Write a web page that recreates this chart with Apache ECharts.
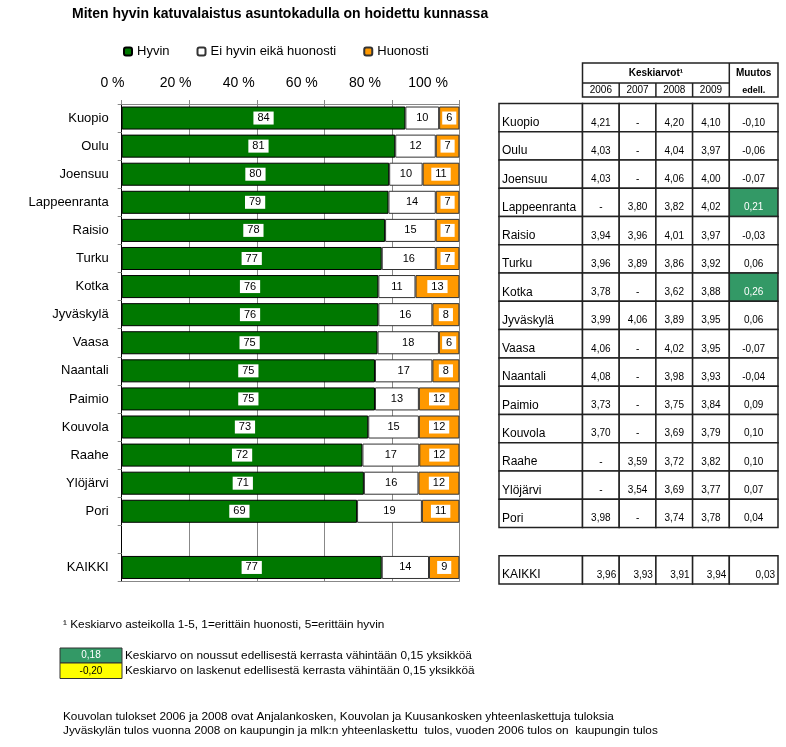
<!DOCTYPE html>
<html><head><meta charset="utf-8">
<script src="https://cdn.jsdelivr.net/npm/echarts@6/dist/echarts.min.js"></script>
<style>html,body{margin:0;padding:0;background:#fff}#c{width:786px;height:747px}</style>
</head><body><div id="c"></div>
<script>
// ---------- DATA ----------
const titleText = 'Miten hyvin katuvalaistus asuntokadulla on hoidettu kunnassa';
const cities = ['Kuopio','Oulu','Joensuu','Lappeenranta','Raisio','Turku','Kotka','Jyväskylä','Vaasa','Naantali','Paimio','Kouvola','Raahe','Ylöjärvi','Pori','','KAIKKI'];
const seriesNames = ['Hyvin','Ei hyvin eikä huonosti','Huonosti'];
const hyvin    = [84,81,80,79,78,77,76,76,75,75,75,73,72,71,69,null,77];
const neutral  = [10,12,10,14,15,16,11,16,18,17,13,15,17,16,19,null,14];
const huonosti = [ 6, 7,11, 7, 7, 7,13, 8, 6, 8,12,12,12,12,11,null, 9];
const tickValues = [0,20,40,60,80,100];

const years = ['2006','2007','2008','2009'];
const avg2006 = [4.21,4.03,4.03,null,3.94,3.96,3.78,3.99,4.06,4.08,3.73,3.70,null,null,3.98,undefined,3.96];
const avg2007 = [null,null,null,3.80,3.96,3.89,null,4.06,null,null,null,null,3.59,3.54,null,undefined,3.93];
const avg2008 = [4.20,4.04,4.06,3.82,4.01,3.86,3.62,3.89,4.02,3.98,3.75,3.69,3.72,3.69,3.74,undefined,3.91];
const avg2009 = [4.10,3.97,4.00,4.02,3.97,3.92,3.88,3.95,3.95,3.93,3.84,3.79,3.82,3.77,3.78,undefined,3.94];
const change  = [-0.10,-0.06,-0.07,0.21,-0.03,0.06,0.26,0.06,-0.07,-0.04,0.09,0.10,0.10,0.07,0.04,undefined,0.03];
const legendSamples = [0.18,-0.20];

const footnote1 = '¹ Keskiarvo asteikolla 1-5, 1=erittäin huonosti, 5=erittäin hyvin';
const sampleTexts = ['Keskiarvo on noussut edellisestä kerrasta vähintään 0,15 yksikköä','Keskiarvo on laskenut edellisestä kerrasta vähintään 0,15 yksikköä'];
const notes = ['Kouvolan tulokset 2006 ja 2008 ovat Anjalankosken, Kouvolan ja Kuusankosken yhteenlaskettuja tuloksia',
               'Jyväskylän tulos vuonna 2008 on kaupungin ja mlk:n yhteenlaskettu  tulos, vuoden 2006 tulos on  kaupungin tulos'];

// ---------- STYLE / LAYOUT ----------
const FONT = '"Liberation Sans", Arial, sans-serif';
const NOTE_FONT = '11.8px ' + FONT;
const GREEN = '#007800', ORANGE = '#FF9900', HI_GREEN = '#339966', HI_YELLOW = '#FFFF00';
const T_TOP = 103.5, T_H = 480.5;
const C_CITY = [499, 83.5], C_YEARS = [582.5, 146.8], C_CHG = [729.3, 48.7];

const fmt = v => (v === null ? '-' : v.toFixed(2).replace('.', ','));
const total = i => (hyvin[i] || 0) + (neutral[i] || 0) + (huonosti[i] || 0);

function barSeries(name, arr, color, border, boxed) {
  return {
    name, type: 'bar', stack: 's', xAxisIndex: 0, yAxisIndex: 0, barCategoryGap: '18%',
    data: arr.map((v, i) => v == null ? null : { value: v / total(i) * 100, raw: v }),
    itemStyle: { color, borderColor: border, borderWidth: 1 },
    label: { show: true, position: 'inside', formatter: p => p.data.raw, color: '#000', fontSize: 11,
      fontFamily: FONT, backgroundColor: boxed ? '#fff' : 'transparent', padding: [1, 4] },
    emphasis: { disabled: true }, animation: false
  };
}

// table cells
const cityCells = [], yearCells = [], chgCells = [];
const yearArrs = [avg2006, avg2007, avg2008, avg2009];
cities.forEach((c, r) => {
  if (c === '') return;
  const last = c === 'KAIKKI';
  cityCells.push({ col: 0, row: r, text: c, fill: '#fff', color: '#000', align: 'left', font: '12px ' + FONT });
  yearArrs.forEach((arr, k) => {
    yearCells.push({ col: k, row: r, text: fmt(arr[r]), fill: '#fff', color: '#000', align: last ? 'right' : 'center', font: '10px ' + FONT });
  });
  const v = change[r];
  const hi = v >= 0.15 ? HI_GREEN : (v <= -0.15 ? HI_YELLOW : '#fff');
  chgCells.push({ col: 0, row: r, text: fmt(v), fill: hi, color: hi === HI_GREEN ? '#fff' : '#000', align: last ? 'right' : 'center', font: '10px ' + FONT });
});

function tableSeries(idx, cells) {
  return {
    type: 'custom', xAxisIndex: idx, yAxisIndex: idx, animation: false, silent: true,
    data: cells.map(c => [c.col, c.row]),
    renderItem: (params, api) => {
      const c = cells[params.dataIndex];
      const p = api.coord([api.value(0), api.value(1)]);
      const s = api.size([1, 1]);
      const x0 = p[0] - s[0] / 2, y0 = p[1] - s[1] / 2;
      const tx = c.align === 'left' ? x0 + 3 : (c.align === 'right' ? x0 + s[0] - 3 : p[0]);
      return { type: 'group', children: [
        { type: 'rect', shape: { x: x0, y: y0, width: s[0], height: s[1] }, style: { fill: c.fill, stroke: '#222', lineWidth: 1.5 } },
        { type: 'text', style: { text: c.text, x: tx, y: y0 + s[1] - 9, align: c.align, verticalAlign: 'middle', fill: c.color, font: c.font } }
      ] };
    }
  };
}

// header graphics
const hx0 = C_YEARS[0], hx1 = C_CHG[0], hx2 = C_CHG[0] + C_CHG[1], hy0 = 63, hy1 = 83, hy2 = 97;
const colW = C_YEARS[1] / years.length;
const headerEls = [
  { type: 'rect', shape: { x: hx0, y: hy0, width: hx2 - hx0, height: hy2 - hy0 }, style: { fill: '#fff', stroke: '#222', lineWidth: 1.5 } },
  { type: 'line', shape: { x1: hx1, y1: hy0, x2: hx1, y2: hy2 }, style: { stroke: '#222', lineWidth: 1.5 } },
  { type: 'line', shape: { x1: hx0, y1: hy1, x2: hx1, y2: hy1 }, style: { stroke: '#222', lineWidth: 1.5 } },
  { type: 'text', style: { text: 'Keskiarvot¹', x: (hx0 + hx1) / 2, y: 73, align: 'center', verticalAlign: 'middle', font: 'bold 10px ' + FONT, fill: '#000' } },
  { type: 'text', style: { text: 'Muutos', x: (hx1 + hx2) / 2, y: 73, align: 'center', verticalAlign: 'middle', font: 'bold 10px ' + FONT, fill: '#000' } },
  { type: 'text', style: { text: 'edell.', x: (hx1 + hx2) / 2, y: 90.5, align: 'center', verticalAlign: 'middle', font: 'bold 9px ' + FONT, fill: '#000' } }
];
years.forEach((y, k) => {
  if (k > 0) headerEls.push({ type: 'line', shape: { x1: hx0 + k * colW, y1: hy1, x2: hx0 + k * colW, y2: hy2 }, style: { stroke: '#222', lineWidth: 1.5 } });
  headerEls.push({ type: 'text', style: { text: y, x: hx0 + (k + 0.5) * colW, y: 90.5, align: 'center', verticalAlign: 'middle', font: '10px ' + FONT, fill: '#000' } });
});

// footnotes
const footEls = [
  { type: 'text', style: { text: footnote1, x: 63, y: 625, verticalAlign: 'middle', font: NOTE_FONT, fill: '#000' } },
  { type: 'rect', shape: { x: 60, y: 648, width: 62, height: 15 }, style: { fill: HI_GREEN, stroke: '#333', lineWidth: 1 } },
  { type: 'rect', shape: { x: 60, y: 663, width: 62, height: 15.5 }, style: { fill: HI_YELLOW, stroke: '#333', lineWidth: 1 } },
  { type: 'text', style: { text: fmt(legendSamples[0]), x: 91, y: 655.5, align: 'center', verticalAlign: 'middle', font: '10px ' + FONT, fill: '#fff' } },
  { type: 'text', style: { text: fmt(legendSamples[1]), x: 91, y: 671, align: 'center', verticalAlign: 'middle', font: '10px ' + FONT, fill: '#000' } },
  { type: 'text', style: { text: sampleTexts[0], x: 125, y: 655.5, verticalAlign: 'middle', font: NOTE_FONT, fill: '#000' } },
  { type: 'text', style: { text: sampleTexts[1], x: 125, y: 671, verticalAlign: 'middle', font: NOTE_FONT, fill: '#000' } },
  { type: 'text', style: { text: notes[0], x: 63, y: 716.5, verticalAlign: 'middle', font: NOTE_FONT, fill: '#000' } },
  { type: 'text', style: { text: notes[1], x: 63, y: 731, verticalAlign: 'middle', font: NOTE_FONT, fill: '#000' } }
];

const hiddenCat = (gi, data) => ({ gridIndex: gi, type: 'category', data, show: false });

const option = {
  backgroundColor: '#fff',
  animation: false,
  textStyle: { fontFamily: FONT },
  title: { text: titleText, left: 72, top: 7, padding: 0, textStyle: { fontSize: 14, fontWeight: 'bold', color: '#000', fontFamily: FONT } },
  legend: { left: 123, top: 45, padding: 0, itemWidth: 8, itemHeight: 8, itemGap: 27, selectedMode: false,
    data: seriesNames, textStyle: { fontSize: 13, color: '#000', fontFamily: FONT } },
  grid: [
    { left: 121.7, top: 104, width: 337.7, height: 477.5 },
    { left: 112.5, top: 104, width: 315.5, height: 477.5 },
    { left: C_CITY[0], top: T_TOP, width: C_CITY[1], height: T_H },
    { left: C_YEARS[0], top: T_TOP, width: C_YEARS[1], height: T_H },
    { left: C_CHG[0], top: T_TOP, width: C_CHG[1], height: T_H }
  ],
  xAxis: [
    { gridIndex: 0, type: 'value', min: 0, max: 100, interval: 20, position: 'top',
      axisLabel: { show: false }, axisLine: { show: true, lineStyle: { color: '#888' } },
      axisTick: { show: true, length: 4, lineStyle: { color: '#888' } },
      splitLine: { show: true, lineStyle: { color: '#888', width: 1 } } },
    { gridIndex: 1, type: 'value', min: 0, max: 100, interval: 20, position: 'top',
      axisLabel: { formatter: v => v + ' %', fontSize: 14, margin: 14, color: '#000', fontFamily: FONT },
      axisLine: { show: false }, axisTick: { show: false }, splitLine: { show: false } },
    hiddenCat(2, ['name']),
    hiddenCat(3, years),
    hiddenCat(4, ['change']),
    { gridIndex: 0, type: 'value', min: 0, max: 100, position: 'bottom', axisLabel: { show: false },
      axisTick: { show: false }, splitLine: { show: false }, axisLine: { show: true, lineStyle: { color: '#888' } } }
  ],
  yAxis: [
    { gridIndex: 0, type: 'category', data: cities, inverse: true,
      axisLine: { show: true, lineStyle: { color: '#000' } },
      axisTick: { show: true, length: 4, lineStyle: { color: '#888' } },
      axisLabel: { interval: 0, fontSize: 13, margin: 13, color: '#000', fontFamily: FONT } },
    { gridIndex: 1, type: 'value', show: false },
    Object.assign(hiddenCat(2, cities), { inverse: true }),
    Object.assign(hiddenCat(3, cities), { inverse: true }),
    Object.assign(hiddenCat(4, cities), { inverse: true })
  ],
  series: [
    barSeries(seriesNames[0], hyvin, GREEN, '#000', true),
    barSeries(seriesNames[1], neutral, '#fff', '#333', false),
    barSeries(seriesNames[2], huonosti, ORANGE, '#333', true),
    tableSeries(2, cityCells),
    tableSeries(3, yearCells),
    tableSeries(4, chgCells)
  ],
  graphic: headerEls.concat(footEls)
};

const chart = echarts.init(document.getElementById('c'), null, { renderer: 'canvas' });
chart.setOption(option);
</script>
</body></html>
